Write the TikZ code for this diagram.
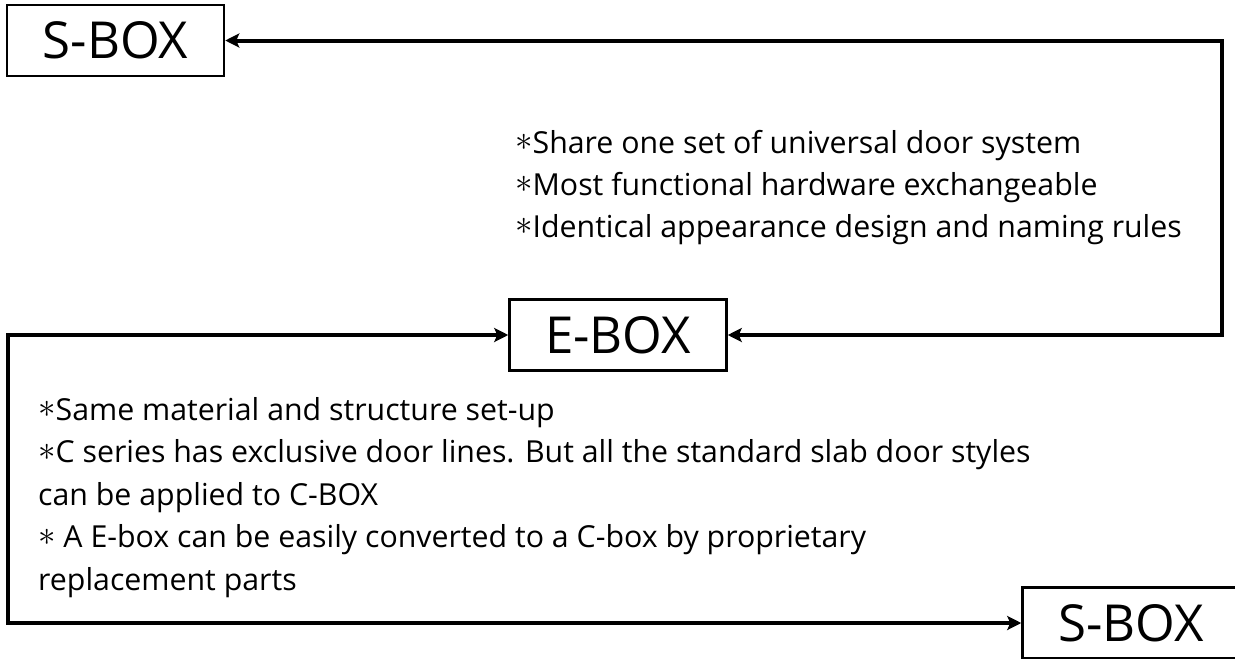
\documentclass[tikz,border=0pt]{standalone}
\usepackage{fontspec}
\usepackage{graphicx}
\setmainfont{Open Sans}
\usetikzlibrary{arrows.meta}
\newcommand\astmark{\smash{\raisebox{0.08em}{\scalebox{1.4}{\ensuremath{\ast}}}}}
\tikzset{
  box/.style={draw, line width=2.5pt, minimum width=217pt, minimum height=71pt, inner sep=0pt,
    font=\fontsize{51}{60}\selectfont},
  conn/.style={line width=4pt,
    {Stealth[length=14pt,width=14pt,inset=3pt]}-{Stealth[length=14pt,width=14pt,inset=3pt]}},
  note/.style={align=left, anchor=north west, inner sep=0pt}
}
\begin{document}
\begin{tikzpicture}[x=1pt,y=-1pt]
\useasboundingbox (0,0) rectangle (1235,659);
\clip (0,0) rectangle (1235,659);
\node[box] (s1) at (115.5,40.5) {S-BOX};
\node[box] (e) at (618,335) {E-BOX};
\node[box] (s2) at (1131,623) {S-BOX};
\coordinate (r) at (1222,40.5);
\coordinate (l) at (8,335);
\draw[conn] (s1.east) -- (r) |- (e.east);
\draw[conn] (e.west) -- (l) |- (s2.west);
\node[note, font=\fontsize{30.3}{42}\selectfont] (t1) at (515,130) {\astmark Share one set of universal door system\\
\astmark Most functional hardware exchangeable\\
\astmark Identical appearance design and naming rules};
\node[note, font=\fontsize{30.3}{42.5}\selectfont] (t2) at (38,397) {\astmark Same material and structure set-up\\
\astmark C series has exclusive door lines. But all the standard slab door styles\\
can be applied to C-BOX\\
\astmark{} A E-box can be easily converted to a C-box by proprietary\\
replacement parts};
\end{tikzpicture}
\end{document}
